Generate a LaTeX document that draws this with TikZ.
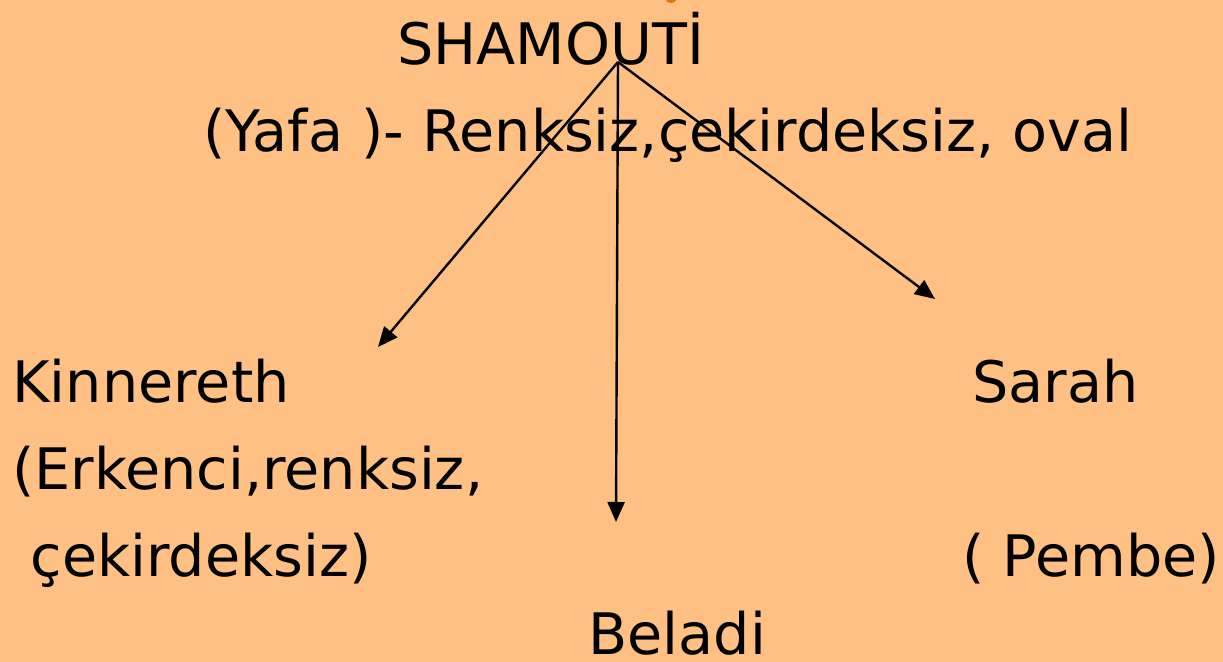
\documentclass[tikz,border=0pt]{standalone}
\usepackage{fontspec}
\setmainfont{DejaVu Sans}
\usetikzlibrary{arrows.meta}

\definecolor{peach}{RGB}{255,193,131}
\definecolor{cutorange}{RGB}{226,118,10}

\tikzset{
  word/.style={anchor=base west, inner sep=0pt, font=\fontsize{28.6}{43}\selectfont},
  branch/.style={line width=1.2pt, -{Triangle[length=10pt,width=8.5pt]}}
}

\begin{document}
\begin{tikzpicture}[x=0.5pt, y=-0.5pt]
        \fill[peach] (0,0) rectangle (1223,662);
        \useasboundingbox (0,0) rectangle (1223,662);
        \fill[cutorange] (671,0) ellipse (5 and 3);

        \node[word] (shamouti) at (397,65) {SHAMOUTİ};
        \node[word] (yafa) at (203,152) {(Yafa )- Renksiz,çekirdeksiz, oval};

        \node[word] (kinnereth) at (12,403) {Kinnereth};
        \node[word] (erkenci) at (12,490) {(Erkenci,renksiz,};
        \node[word] (cekirdeksiz) at (12,577) {\ çekirdeksiz)};

        \node[word] (sarah) at (972,403) {Sarah};
        \node[word] (pembe) at (962,577) {( Pembe)};

        \node[word, text depth=0pt] (beladi) at (588,655) {Beladi};

        \coordinate (root) at (618,62);
        \coordinate (tokinnereth) at (378,347);
        \coordinate (tobeladi) at (616,522);
        \coordinate (tosarah) at (935,299);

        \draw[branch] (root) -- (tokinnereth);
        \draw[branch] (root) -- (tobeladi);
        \draw[branch] (root) -- (tosarah);
    \end{tikzpicture}
\end{document}
